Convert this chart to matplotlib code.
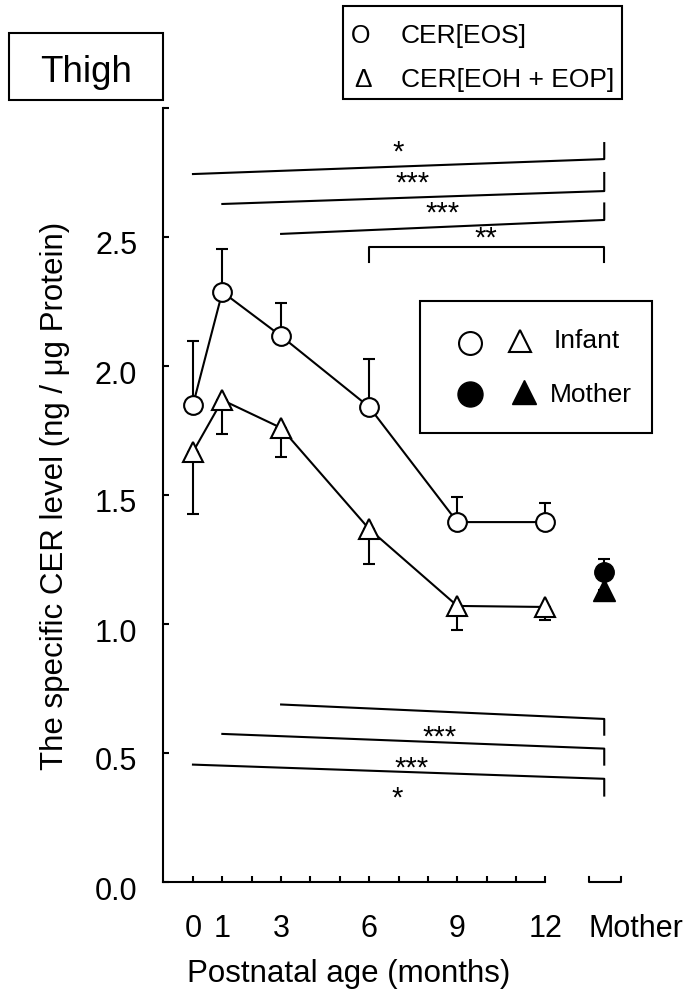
import numpy as np
import matplotlib.pyplot as plt
from matplotlib.patches import Rectangle
from matplotlib.transforms import ScaledTranslation

plt.rcParams['font.family'] = ['Liberation Sans', 'DejaVu Sans']

months = [0, 1, 3, 6, 9, 12]
mother_x = 14

eos = [1.849, 2.287, 2.116, 1.841, 1.395, 1.395]
eos_err = [0.248, 0.166, 0.128, 0.186, 0.097, 0.074]
eos_mother = 1.202
eos_mother_err = 0.05

eoh = [1.667, 1.868, 1.76, 1.368, 1.07, 1.066]
eoh_err = [0.241, 0.132, 0.112, 0.135, 0.093, 0.05]
eoh_mother = 1.13
eoh_mother_err = 0.02

xtick_vals = list(range(13))
xtick_labels = ['0', '1', '', '3', '', '', '6', '', '', '9', '', '', '12']
mother_label = 'Mother'

# significance lines, EOS vs mother (top)
top_start = [0, 1, 3]
top_yl = [2.744, 2.628, 2.512]
top_yr = [2.802, 2.678, 2.566]
top_ytick = [2.864, 2.748, 2.630]
top_lab = ['*', '***', '***']
top_lab_x = [6.97, 7.48, 8.5]
top_lab_y = [2.795, 2.678, 2.561]
br_start, br_y, br_drop = 6, 2.461, 2.403
br_lab, br_lab_x, br_lab_y = '**', 9.97, 2.462

# significance lines, EOH+EOP vs mother (bottom)
bot_start = [3, 1, 0]
bot_yl = [0.688, 0.574, 0.455]
bot_yr = [0.632, 0.517, 0.400]
bot_ytick = [0.571, 0.455, 0.335]
bot_lab = ['***', '***', '*']
bot_lab_x = [8.41, 7.45, 6.94]
bot_lab_y = [0.530, 0.410, 0.294]

fig = plt.figure(figsize=(6.94, 9.92), dpi=100)
# axes: spine at x=163px (-1.02), 29.4 px per month, y 0..3 from 882px to 108px
ax = fig.add_axes([163/694, 1-882/992, 500/694, 774/992])
ax.set_xlim(-1.02, 16.0)
ax.set_ylim(0, 3)

lw = 1.5
cap = 4.6
ebkw = dict(fmt='none', ecolor='black', elinewidth=lw, capsize=cap, capthick=lw, zorder=2)
ax.errorbar(months, eos, yerr=[np.zeros(6), eos_err], **ebkw)
ax.errorbar(months, eoh, yerr=[eoh_err, np.zeros(6)], **ebkw)
ax.errorbar([mother_x], [eos_mother], yerr=[[0], [eos_mother_err]], **ebkw)
ax.errorbar([mother_x], [eoh_mother], yerr=[[eoh_mother_err], [0]], **ebkw)

ax.plot(months, eos, '-o', color='black', lw=lw, ms=13.5, mfc='white', mec='black',
        mew=lw, zorder=3)
ax.plot(months, eoh, '-^', color='black', lw=lw, ms=15, mfc='white', mec='black',
        mew=lw, zorder=3)
ax.plot([mother_x], [eoh_mother], '^', color='black', ms=15.5, zorder=4)
ax.plot([mother_x], [eos_mother], 'o', color='black', ms=14, zorder=4)

# significance annotations
star_fs = 21
for s, yl, yr, yt, lab, lx, ly in zip(top_start, top_yl, top_yr, top_ytick,
                                       top_lab, top_lab_x, top_lab_y):
    ax.plot([s, mother_x, mother_x], [yl, yr, yt], color='black', lw=lw)
    ax.text(lx, ly, lab, ha='center', va='baseline', fontsize=star_fs)
ax.plot([br_start, br_start, mother_x, mother_x], [br_drop, br_y, br_y, br_drop],
        color='black', lw=lw)
ax.text(br_lab_x, br_lab_y, br_lab, ha='center', va='baseline', fontsize=star_fs)

for s, yl, yr, yt, lab, lx, ly in zip(bot_start, bot_yl, bot_yr, bot_ytick,
                                       bot_lab, bot_lab_x, bot_lab_y):
    ax.plot([s, mother_x, mother_x], [yl, yr, yt], color='black', lw=lw)
    ax.text(lx, ly, lab, ha='center', va='baseline', fontsize=star_fs)

# axes styling
for side in ['top', 'right']:
    ax.spines[side].set_visible(False)
ax.spines['left'].set_bounds(0, 3)
ax.spines['bottom'].set_bounds(-1.02, 12)
ax.spines['left'].set_linewidth(lw)
ax.spines['bottom'].set_linewidth(lw)

ax.set_yticks(np.arange(0, 3.01, 0.5))
ax.set_yticklabels(['0.0', '0.5', '1.0', '1.5', '2.0', '2.5', ''])
ax.tick_params(axis='y', direction='in', length=4, width=lw, labelsize=22, pad=18.5)
for lab in ax.get_yticklabels():
    lab.set_transform(lab.get_transform() + ScaledTranslation(0, -0.06, fig.dpi_scale_trans))

ax.set_xticks(xtick_vals)
ax.set_xticklabels(xtick_labels)
ax.set_xticks([13.47], minor=True)
ax.set_xticklabels([mother_label], minor=True)
ax.tick_params(axis='x', which='major', direction='in', length=4, width=lw,
               labelsize=22, pad=23)
ax.tick_params(axis='x', which='minor', length=0, labelsize=22, pad=23)
for lab in ax.get_xticklabels(minor=True):
    lab.set_horizontalalignment('left')

# mother bracket on x axis
ax.plot([13.47, 13.47, 14.56, 14.56], [0.02, 0, 0, 0.02], color='black', lw=lw,
        clip_on=False)

fig.text(348.5/694, 1-982/992, 'Postnatal age (months)', fontsize=22.5,
         ha='center', va='baseline')
fig.text(55/694, 1-496/992, 'The specific CER level (ng / \u03bcg Protein)',
         fontsize=22.5, rotation=90, ha='center', va='center')

# inner legend box
ax.add_patch(Rectangle((7.72, 1.740), 7.89, 0.512, fill=False, lw=lw, ec='black',
                       clip_on=False, zorder=5))
ax.plot([9.42], [2.089], 'o', ms=16.5, mfc='white', mec='black', mew=lw, clip_on=False)
ax.plot([11.12], [2.095], '^', ms=16.5, mfc='white', mec='black', mew=lw, clip_on=False)
ax.text(12.28, 2.097, 'Infant', fontsize=19, va='center')
ax.plot([9.42], [1.893], 'o', ms=18, color='black', clip_on=False)
ax.plot([11.26], [1.90], '^', ms=17, color='black', clip_on=False)
ax.text(12.14, 1.888, 'Mother', fontsize=19, va='center')

# top legend box and title box (figure pixels)
def px(x, y):
    return x / 694, 1 - y / 992

fig.patches.append(Rectangle(px(343, 99), 279/694, 93/992, fill=False, lw=lw,
                             ec='black', transform=fig.transFigure))
fig.text(*px(361, 36), 'O', fontsize=18, ha='center', va='center')
fig.text(*px(401, 36), 'CER[EOS]', fontsize=19, va='center')
fig.text(*px(363, 80), '\u0394', fontsize=19, ha='center', va='center')
fig.text(*px(401, 80), 'CER[EOH + EOP]', fontsize=19, va='center')

fig.patches.append(Rectangle(px(9, 100), 154/694, 67/992, fill=False, lw=lw,
                             ec='black', transform=fig.transFigure))
fig.text(*px(86, 72), 'Thigh', fontsize=26.5, ha='center', va='center')

fig.savefig('out.png', dpi=100)
